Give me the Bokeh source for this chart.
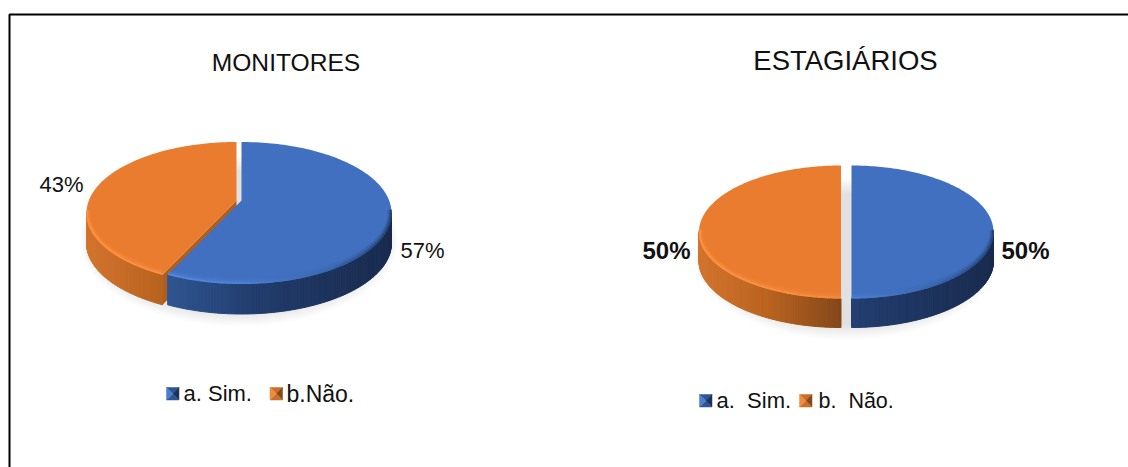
import math
from bokeh.core.properties import value
from bokeh.embed import file_html
from bokeh.models import ColumnDataSource, Range1d
from bokeh.plotting import figure
from bokeh.resources import INLINE

# Survey answers, in percent
monitores_shares = [57, 43]
estagiarios_shares = [50, 50]
monitores_legend = ["a. Sim.", "b.Não."]
estagiarios_legend = ["a.\u00a0\u00a0Sim.", "b.\u00a0\u00a0Não."]
chart_titles = ["MONITORES", "ESTAGIÁRIOS"]

FONT = value("Liberation Sans")
INK = "#111111"
BLUE_TOP = "#4070bf"
ORANGE_TOP = "#ea7c30"
BLUE_SIDE = [(0.0, "#3a66ad"), (0.26, "#2f5590"), (0.56, "#213c6c"), (1.0, "#192b4e")]
ORANGE_SIDE = [(0.0, "#d3742e"), (0.25, "#b8631f"), (0.5, "#84481a"), (1.0, "#6a3a14")]
BLUE_RIM = [(0.0, "#5c92e8"), (0.5, "#4f83d8"), (0.8, "#3a64aa"), (1.0, "#25406f")]
ORANGE_RIM = [(0.0, "#ff9645"), (0.5, "#f98d3e"), (1.0, "#d9752e")]


def rgb(h):
    return tuple(int(h[i:i + 2], 16) for i in (1, 3, 5))


def ramp(stops, u):
    u = max(0.0, min(1.0, u))
    for (u0, c0), (u1, c1) in zip(stops, stops[1:]):
        if u <= u1:
            t = (u - u0) / (u1 - u0)
            a, b = rgb(c0), rgb(c1)
            return "#%02x%02x%02x" % tuple(round(a[k] + (b[k] - a[k]) * t) for k in range(3))
    return stops[-1][1]


p = figure(width=1128, height=467, x_range=Range1d(0, 1128), y_range=Range1d(467, 0),
           output_backend="svg", toolbar_location=None, min_border=0)
p.axis.visible = False
p.grid.visible = False
p.outline_line_color = None
p.background_fill_color = "white"
p.border_fill_color = "white"

# Frame around the two charts: only the top and left rules fall inside the page
p.line([9, 9, 1128], [467, 14, 14], line_color="black", line_width=2)


def rim_hit(theta, cx, cy, rx, ry, ax, ay):
    """Point of the tilted ellipse reached from the apex along a pie angle."""
    dx, dy = math.sin(theta) * rx, -math.cos(theta) * ry
    ox, oy = (ax - cx) / rx, (ay - cy) / ry
    ux, uy = dx / rx, dy / ry
    a, b, c = ux * ux + uy * uy, 2 * (ox * ux + oy * uy), ox * ox + oy * oy - 1
    t = (-b + math.sqrt(b * b - 4 * a * c)) / (2 * a)
    return ax + dx * t, ay + dy * t


def draw_pie(shares, cy, rx, ry, depth, base_x, apex_y, pull):
    # Soft ground shadow under the whole pie
    for k in range(10):
        p.ellipse(base_x, cy + depth - 2, width=2 * (rx + 9 - 1.6 * k), height=2 * (ry + 14 - 1.6 * k),
                  fill_color="black", fill_alpha=0.012, line_color=None)

    total = sum(shares)
    edges = [0.0]
    for s in shares:
        edges.append(edges[-1] + s / total * 2 * math.pi)
    tops = [BLUE_TOP, ORANGE_TOP]
    sides = [BLUE_SIDE, ORANGE_SIDE]
    rims = [BLUE_RIM, ORANGE_RIM]

    # Later slices go first so the nearer slice overlaps their cut face
    for i in reversed(range(len(shares))):
        cx, ax = base_x + pull[i], base_x + pull[i]
        a0, a1 = edges[i], edges[i + 1]
        x0, y0 = rim_hit(a0, cx, cy, rx, ry, ax, apex_y)
        x1, y1 = rim_hit(a1, cx, cy, rx, ry, ax, apex_y)
        phi0 = math.atan2((x0 - cx) / rx, -(y0 - cy) / ry) % (2 * math.pi)
        phi1 = math.atan2((x1 - cx) / rx, -(y1 - cy) / ry) % (2 * math.pi)
        if phi1 <= phi0:
            phi1 += 2 * math.pi
        n = 180
        phis = [phi0 + (phi1 - phi0) * j / n for j in range(n + 1)]
        xs = [cx + rx * math.sin(f) for f in phis]
        ys = [cy - ry * math.cos(f) for f in phis]
        base_left = base_x + pull[i] - rx

        # Outer wall, shaded strip by strip
        qx, qy, qc = [], [], []
        for j in range(n):
            if ys[j] < cy and ys[j + 1] < cy:
                continue
            qx.append([xs[j], xs[j + 1], xs[j + 1], xs[j]])
            qy.append([ys[j], ys[j + 1], ys[j + 1] + depth, ys[j] + depth])
            qc.append(ramp(sides[i], (xs[j] - base_left) / (2 * rx)))
        if qx:
            p.patches("x", "y", source=ColumnDataSource(dict(x=qx, y=qy, c=qc)),
                      fill_color="c", line_color="c", line_width=1)

        # Cut face seen where the slice starts past the half-way mark
        if a0 >= math.pi and a0 < 2 * math.pi:
            p.patch([ax, x0, x0, ax], [apex_y, y0, y0 + depth, apex_y + depth],
                    fill_color=ramp(sides[i], 0.3), line_color=None)

        # Top surface
        p.patch([ax] + xs, [apex_y] + ys, fill_color=tops[i], line_color=None)

        # Bevel along the front edge, fading inwards
        for inset, width, alpha in ((5, 2, 0.18), (3, 2, 0.4), (1, 2, 0.95)):
            mx, my, mc = [], [], []
            for j in range(n):
                if ys[j] < cy - 2 and ys[j + 1] < cy - 2:
                    continue
                f0, f1 = phis[j], phis[j + 1]
                mx.append([cx + (rx - inset * 0.6) * math.sin(f0), cx + (rx - inset * 0.6) * math.sin(f1)])
                my.append([cy - (ry - inset) * math.cos(f0), cy - (ry - inset) * math.cos(f1)])
                mc.append(ramp(rims[i], (xs[j] - base_left) / (2 * rx)))
            if mx:
                p.multi_line("x", "y", source=ColumnDataSource(dict(x=mx, y=my, c=mc)),
                             line_color="c", line_width=width, line_alpha=alpha)


def key_swatch(x, y, size, faces):
    cx, cy = x + size / 2, y + size / 2
    corners = [(x, y), (x + size, y), (x + size, y + size), (x, y + size)]
    for k, colour in enumerate(faces):
        c0, c1 = corners[k], corners[(k + 1) % 4]
        p.patch([c0[0], c1[0], cx], [c0[1], c1[1], cy], fill_color=colour, line_color=colour, line_width=0.5)


BLUE_KEY = ["#2f5597", "#1c3156", "#2f5597", "#4a7fd0"]
ORANGE_KEY = ["#c96f2b", "#84481a", "#c96f2b", "#ee8c3c"]

draw_pie(monitores_shares, cy=212.5, rx=150, ry=71, depth=30, base_x=238.5, apex_y=200, pull=[2.5, -2.5])
draw_pie(estagiarios_shares, cy=231.5, rx=142, ry=66.5, depth=29, base_x=845.5, apex_y=221, pull=[5.5, -5])


def label(x, y, text, size, style="normal", align="left"):
    p.text([x], [y], text=[text], text_font=FONT, text_font_size=size, text_color=INK,
           text_align=align, text_baseline="middle", text_font_style=style)


label(285.5, 62, chart_titles[0], "24.6px", align="center")
label(845, 60, chart_titles[1], "27.5px", align="center")

label(400, 250, f"{monitores_shares[0]}%", "22px")
label(39, 184, f"{monitores_shares[1]}%", "22px")
label(1001, 250, f"{estagiarios_shares[0]}%", "24px", "bold")
label(642, 250, f"{estagiarios_shares[1]}%", "24px", "bold")

key_swatch(166, 387, 12.5, BLUE_KEY)
label(183, 393, monitores_legend[0], "22px")
key_swatch(269.5, 387, 12.5, ORANGE_KEY)
label(286, 393, monitores_legend[1], "23px")
key_swatch(699, 394, 12.5, BLUE_KEY)
label(716, 400, estagiarios_legend[0], "22px")
key_swatch(799, 394, 12.5, ORANGE_KEY)
label(818, 400, estagiarios_legend[1], "21.5px")

open("out.html", "w").write(file_html(p, INLINE))
